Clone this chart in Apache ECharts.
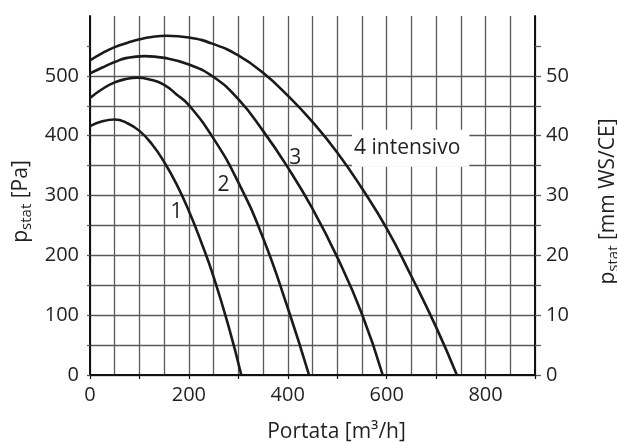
<!DOCTYPE html>
<html>
<head>
<meta charset="utf-8">
<script src="https://cdn.jsdelivr.net/npm/echarts@6/dist/echarts.min.js"></script>
<style>
html,body{margin:0;padding:0;background:#fff;}
#chart{width:617px;height:445px;}
</style>
</head>
<body>
<div id="chart"></div>
<script>
// ---- data ----
const curve1Flow = [0, 25, 50, 75, 100, 125, 150, 175, 200, 225, 250, 280, 306];
const curve1Pa   = [416, 424, 427, 421, 408, 386, 356, 319, 274, 222, 164, 82, 0];
const curve2Flow = [0, 25, 50, 75, 95, 125, 150, 175, 200, 250, 300, 350, 400, 443];
const curve2Pa   = [463, 478, 489, 495, 497, 493, 485, 469, 451, 395, 322, 229, 112, 0];
const curve3Flow = [0, 25, 50, 75, 110, 150, 200, 250, 300, 350, 400, 450, 500, 550, 592];
const curve3Pa   = [504, 514, 523, 530, 533, 530, 519, 498, 461, 408, 347, 278, 197, 102, 0];
const curve4Flow = [0, 25, 50, 75, 100, 125, 155, 200, 250, 300, 350, 400, 450, 500, 550, 600, 650, 700, 742];
const curve4Pa   = [526, 538, 548, 555, 561, 565, 567, 564, 553, 534, 505, 467, 423, 372, 312, 245, 165, 80, 0];

const xTickLabels = [0, 200, 400, 600, 800];
const yLeftTickLabels = [0, 100, 200, 300, 400, 500];
const yRightTickLabels = [0, 10, 20, 30, 40, 50];

const curveNames = ['1', '2', '3', '4 intensivo'];
const curveLabelAt = [[175, 273], [270, 318], [415, 362], [530, 379]];

// ---- chart ----
const FONT = 'Open Sans';
const TXT = '#231f20';
const GRID = '#5a5a5a';

function pairs(xs, ys) { return xs.map((x, i) => [x, ys[i]]); }
const series = [
  pairs(curve1Flow, curve1Pa),
  pairs(curve2Flow, curve2Pa),
  pairs(curve3Flow, curve3Pa),
  pairs(curve4Flow, curve4Pa)
].map((d, i) => ({
  type: 'line', name: curveNames[i], data: d, xAxisIndex: 0, yAxisIndex: 0,
  smooth: 0.5, symbol: 'none', silent: true, z: 5,
  lineStyle: { color: '#1a1a1a', width: 2.6 }
}));

function range(a, b, s) { const r = []; for (let v = a; v <= b; v += s) r.push(v); return r; }

const nameRich = {
  p: { fontFamily: FONT, fontSize: 21, color: TXT, lineHeight: 26 },
  s: { fontFamily: FONT, fontSize: 15, color: TXT, lineHeight: 26, padding: [11, 0, 0, 0] }
};

const chart = echarts.init(document.getElementById('chart'), null, { renderer: 'canvas' });
const option = {
  animation: false,
  backgroundColor: '#fff',
  textStyle: { fontFamily: FONT },
  grid: { left: 90, right: 82, top: 16, bottom: 70, containLabel: false, outerBoundsMode: 'none' },
  xAxis: [{
    type: 'value', min: 0, max: 900, interval: 100,
    name: 'Portata [m³/h]', nameLocation: 'middle', nameGap: 47,
    nameTextStyle: { fontFamily: FONT, fontSize: 21, color: TXT, padding: [0, 0, 0, 48] },
    axisLine: { show: true, onZero: false, lineStyle: { color: '#111', width: 2 } },
    axisTick: { show: true, length: 4, lineStyle: { color: '#111', width: 1.2 } },
    axisLabel: { customValues: xTickLabels, fontFamily: FONT, fontSize: 20, color: TXT, margin: 10 },
    splitLine: { show: true, lineStyle: { color: GRID, width: 1.3 } },
    minorTick: { show: false, splitNumber: 2 },
    minorSplitLine: { show: true, lineStyle: { color: GRID, width: 1.3 } }
  }],
  yAxis: [{
    type: 'value', min: 0, max: 600, interval: 50, position: 'left',
    name: '{p|p}{s|stat}{p| [Pa]}', nameLocation: 'middle', nameGap: 50, nameRotate: 90,
    nameTextStyle: { rich: nameRich, padding: [0, 12, 0, 0] },
    axisLine: { show: true, onZero: false, lineStyle: { color: '#111', width: 2 } },
    axisTick: { show: true, length: 3, customValues: range(0, 550, 50), lineStyle: { color: GRID, width: 1.3 } },
    axisLabel: { customValues: yLeftTickLabels, fontFamily: FONT, fontSize: 20, color: TXT, margin: 11 },
    splitLine: { show: true, showMaxLine: false, lineStyle: { color: GRID, width: 1.3 } }
  }, {
    type: 'value', min: 0, max: 60, interval: 5, position: 'right',
    name: '{p|p}{s|stat}{p| [mm WS/CE]}', nameLocation: 'middle', nameGap: 60, nameRotate: 90,
    nameTextStyle: { rich: nameRich, padding: [0, 12, 0, 0] },
    axisLine: { show: true, onZero: false, lineStyle: { color: '#111', width: 2 } },
    axisTick: { show: true, length: 6, customValues: range(0, 55, 5), lineStyle: { color: GRID, width: 1.3 } },
    axisLabel: { customValues: yRightTickLabels, fontFamily: FONT, fontSize: 20, color: TXT, margin: 11 },
    splitLine: { show: false }
  }],
  series: series
};
chart.setOption(option);

const graphics = curveNames.map((t, i) => {
  const p = chart.convertToPixel({ gridIndex: 0 }, curveLabelAt[i]);
  const isBox = i === 3;
  return {
    type: 'text', z: 10, x: p[0], y: p[1],
    style: {
      text: t, fontFamily: FONT, fontSize: 21, fill: TXT,
      align: isBox ? 'left' : 'center', verticalAlign: 'middle',
      backgroundColor: isBox ? '#fff' : 'transparent',
      padding: isBox ? [8, 9, 8, 2] : 0
    }
  };
});
chart.setOption({ graphic: graphics });
</script>
</body>
</html>
